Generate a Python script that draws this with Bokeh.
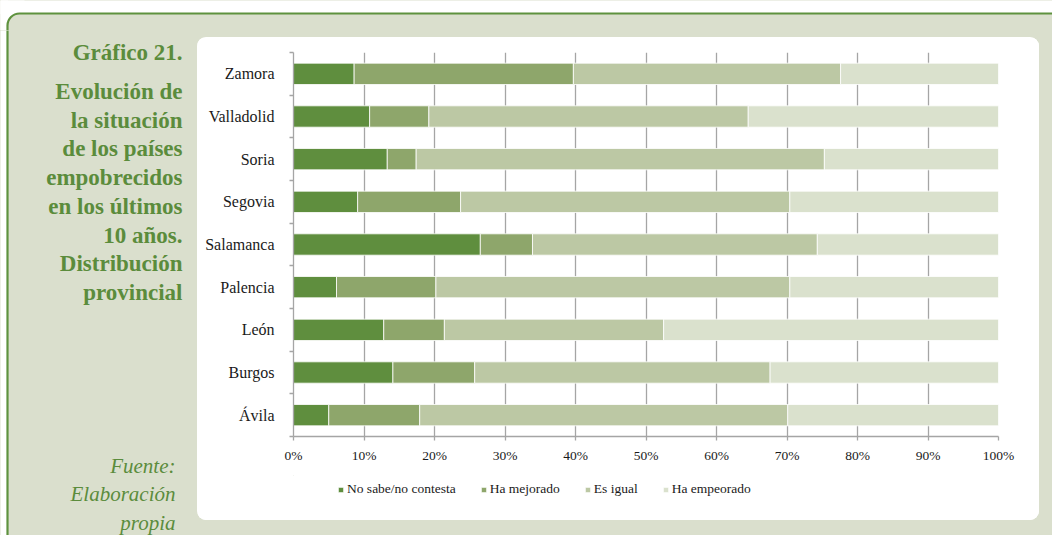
from bokeh.plotting import figure
from bokeh.layouts import row, column
from bokeh.models import (ColumnDataSource, FixedTicker, PrintfTickFormatter, Legend,
                          LegendItem, BoxAnnotation, Range1d)
from bokeh.core.properties import value
from bokeh.embed import file_html
from bokeh.resources import INLINE

# ---- data ----
provinces = ["Zamora", "Valladolid", "Soria", "Segovia", "Salamanca",
             "Palencia", "León", "Burgos", "Ávila"]
no_sabe = [8.6, 10.8, 13.3, 9.1, 26.5, 6.1, 12.8, 14.1, 5.0]
mejorado = [31.1, 8.4, 4.1, 14.6, 7.4, 14.1, 8.6, 11.6, 12.9]
igual = [37.9, 45.3, 57.9, 46.7, 40.4, 50.2, 31.1, 41.9, 52.2]
empeorado = [22.4, 35.5, 24.7, 29.6, 25.7, 29.6, 47.5, 32.4, 29.9]
series_names = ["No sabe/no contesta", "Ha mejorado", "Es igual", "Ha empeorado"]
x_ticks = [0, 10, 20, 30, 40, 50, 60, 70, 80, 90, 100]

title_lines = ["Gráfico 21.", "Evolución de", "la situación", "de los países",
               "empobrecidos", "en los últimos", "10 años.", "Distribución", "provincial"]
source_lines = ["Fuente:", "Elaboración", "propia"]

# ---- style ----
colors = ["#5f8e3e", "#8ea66b", "#bcc8a4", "#dae1cd"]
green_text = "#5b8c3c"
panel_fill = "#dadfcd"
border_green = "#5e923e"
grid_gray = "#a5a5a5"
serif = "Liberation Serif"

W, H = 1052, 535
TOP_H = 30                                    # height of the full-width top strip
PX0, PY0, PX1, PY1 = 197, 37, 1039, 520      # white inner panel (page px)
FL, FR, FT, FB = 293, 998, 52, 436            # chart frame (page px)
LEG_Y = 475                                   # top of legend strip (page px)
n = len(provinces)


def deco_fig(w, h, x0, y0, fill, **kw):
    """A figure drawn in page pixel units."""
    args = dict(min_border=0)
    args.update(kw)
    f = figure(width=w, height=h, output_backend="svg", toolbar_location=None,
               x_range=Range1d(x0, x0 + w), y_range=Range1d(y0 + h, y0),
               x_axis_location=None, y_axis_location=None, **args)
    f.xgrid.grid_line_color = None
    f.ygrid.grid_line_color = None
    f.outline_line_color = None
    f.background_fill_color = fill
    f.border_fill_color = fill
    return f


def box(left, right, top, bottom, fill, line=None, radius=0):
    return BoxAnnotation(left=left, right=right, top=top, bottom=bottom,
                         fill_color=fill, fill_alpha=1, line_color=line,
                         line_width=2.2, line_alpha=1, border_radius=radius,
                         level="image", editable=False)


# ---- full-width top strip with the rounded outer corner ----
top = deco_fig(W, TOP_H, 0, 0, panel_fill)
top.add_layout(box(-100, 24, -100, 30, "white"))
top.add_layout(box(-100, 7.5, -100, 2000, "white"))
top.add_layout(box(-100, 5000, -100, 13.5, "white"))
top.add_layout(box(7, 5000, 13, 5000, panel_fill, border_green, 12))

# ---- left column: title and source ----
left = deco_fig(PX0, H - TOP_H, 0, TOP_H, panel_fill)
left.add_layout(box(-100, 7.5, -100, 2000, "white"))
left.add_layout(box(7, 3000, -100, 3000, panel_fill, border_green, 0))
title_baselines = [52, 91, 119.7, 148.4, 177.1, 205.8, 234.5, 263.2, 292]
left.text(x=[182] * len(title_lines), y=title_baselines, text=title_lines,
          text_align="right", text_baseline="alphabetic", text_font=value(serif),
          text_font_size="23px", text_font_style="bold", text_color=green_text)
source_baselines = [465, 493.5, 522]
left.text(x=[175] * len(source_lines), y=source_baselines, text=source_lines,
          text_align="right", text_baseline="alphabetic", text_font=value(serif),
          text_font_size="21px", text_font_style="italic", text_color=green_text)

# ---- strips around the white panel ----
top_r = deco_fig(W - PX0, PY0 - TOP_H, PX0, TOP_H, panel_fill)
right = deco_fig(W - PX1, PY1 - PY0, PX1, PY0, panel_fill)
bottom = deco_fig(W - PX0, H - PY1, PX0, PY1, panel_fill)

# ---- chart ----
ypos = list(range(n - 1, -1, -1))
src = ColumnDataSource(dict(y=ypos, a=no_sabe, b=mejorado, c=igual, d=empeorado))

p = figure(width=PX1 - PX0, height=LEG_Y - PY0, output_backend="svg", toolbar_location=None,
           x_range=Range1d(0, 100), y_range=Range1d(-0.5, n - 0.5),
           min_border_left=FL - PX0, min_border_right=PX1 - FR,
           min_border_top=FT - PY0, min_border_bottom=LEG_Y - FB)
p.outline_line_color = None
p.border_fill_color = "white"
p.background_fill_color = "white"

p.hbar_stack(["a", "b", "c", "d"], y="y", height=0.5, source=src,
             color=colors, line_color="white", line_width=0.8)

p.xaxis.ticker = FixedTicker(ticks=x_ticks)
p.xaxis.formatter = PrintfTickFormatter(format="%d%%")
p.xaxis.axis_line_color = grid_gray
p.xaxis.axis_line_width = 1.3
p.xaxis.major_tick_line_color = grid_gray
p.xaxis.major_tick_line_width = 1.3
p.xaxis.major_tick_out = 4
p.xaxis.major_tick_in = 0
p.xaxis.minor_tick_line_color = None
p.xaxis.major_label_text_font = serif
p.xaxis.major_label_text_font_size = "13.5px"
p.xaxis.major_label_text_color = "#1a1a1a"
p.xaxis.major_label_standoff = 7

p.yaxis.ticker = FixedTicker(ticks=ypos, minor_ticks=[i - 0.5 for i in range(n + 1)])
p.yaxis.major_label_overrides = {yy: name for yy, name in zip(ypos, provinces)}
p.yaxis.axis_line_color = grid_gray
p.yaxis.axis_line_width = 1.3
p.yaxis.major_tick_line_color = None
p.yaxis.major_tick_out = 0
p.yaxis.major_tick_in = 0
p.yaxis.minor_tick_line_color = grid_gray
p.yaxis.minor_tick_line_width = 1.3
p.yaxis.minor_tick_out = 4
p.yaxis.minor_tick_in = 0
p.yaxis.major_label_text_font = serif
p.yaxis.major_label_text_font_size = "16px"
p.yaxis.major_label_text_color = "#1a1a1a"
p.yaxis.major_label_standoff = 15

p.xgrid.ticker = FixedTicker(ticks=x_ticks)
p.xgrid.grid_line_color = grid_gray
p.xgrid.grid_line_width = 1.3
p.ygrid.grid_line_color = None

# ---- legend strip (same series colours, own swatches kept out of view) ----
leg = deco_fig(PX1 - PX0, PY1 - LEG_Y, PX0, LEG_Y, "white",
               min_border_left=FL - PX0, min_border_right=PX1 - FR)
swatches = [leg.hbar(y=[-5000], left=[0], right=[1], height=1, color=c,
                     line_color="white") for c in colors]
items = [LegendItem(label=nm, renderers=[r]) for nm, r in zip(series_names, swatches)]
legend = Legend(items=items, orientation="horizontal", location=(44, 23),
                glyph_width=7, glyph_height=7, label_height=14, label_standoff=3,
                spacing=24, padding=0, margin=0, border_line_color=None,
                background_fill_alpha=0, label_text_font=serif,
                label_text_font_size="13.5px", label_text_color="#1a1a1a")
leg.add_layout(legend)

white_panel = column(p, leg, spacing=0,
                     styles={"border-radius": "9px", "overflow": "hidden",
                             "background-color": "white"})
middle = row(white_panel, right, spacing=0, styles={"background-color": panel_fill})
rightcol = column(top_r, middle, bottom, spacing=0, styles={"background-color": panel_fill})
lower = row(left, rightcol, spacing=0, styles={"background-color": panel_fill})
root = column(top, lower, spacing=0, styles={"background-color": panel_fill})

open("out.html", "w").write(file_html(root, INLINE))
